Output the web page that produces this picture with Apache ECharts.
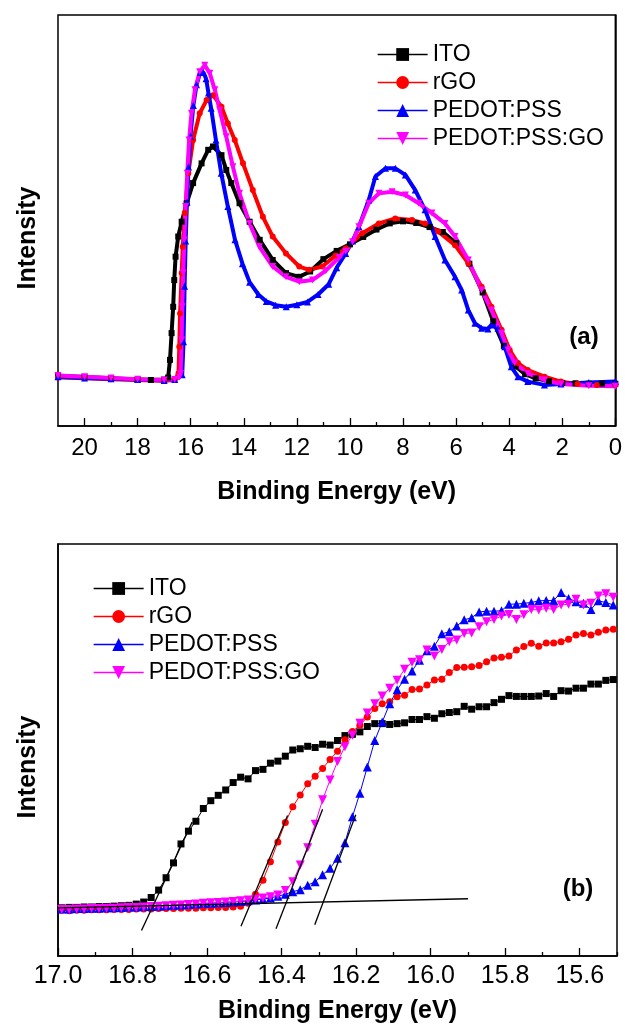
<!DOCTYPE html>
<html><head><meta charset="utf-8">
<script src="https://cdn.jsdelivr.net/npm/echarts@6/dist/echarts.min.js"></script>
<style>html,body{margin:0;padding:0;background:#fff}#c{width:625px;height:1026px}</style>
</head><body><div id="c"></div><script>
// ---------- Panel (a): UPS spectra, [binding energy (eV), intensity (a.u.)] ----------
const itoA = [[21,12.2],[20,11.9],[19,11.6],[18,11.3],[17.5,11.2],[17.0,11.3],[16.85,11.8],[16.78,16.1],[16.72,22.6],[16.66,29.0],[16.62,35.5],[16.57,41.2],[16.47,46.1],[16.34,49.7],[16.15,54.2],[15.91,59.1],[15.59,63.9],[15.34,67.2],[15.16,68.0],[14.84,65.9],[14.66,62.3],[14.47,59.1],[14.16,54.2],[13.78,49.7],[13.4,45.3],[12.91,40.4],[12.41,37.2],[11.91,36.3],[11.5,37.6],[11.0,40.6],[10.5,42.6],[10.0,44.2],[9.5,46.0],[9.0,47.8],[8.5,49.3],[8.0,49.8],[7.5,49.4],[7.0,48.4],[6.5,47.2],[6.0,44.5],[5.5,39.5],[5.0,32.5],[4.6,25.5],[4.2,19.5],[3.75,14.5],[3.4,12.6],[3.0,11.6],[2.5,10.9],[2.0,10.5],[1.5,10.4],[1.0,10.3],[0.5,10.3],[0,10.3]];
const rgoA = [[21,11.8],[20,11.6],[19,11.4],[18,11.2],[17,11.0],[16.6,11.2],[16.46,12.8],[16.43,19.3],[16.40,27.4],[16.34,37.2],[16.30,43.6],[16.22,51.8],[16.09,61.5],[15.91,69.6],[15.66,76.1],[15.40,79.3],[15.16,80.5],[14.84,77.7],[14.60,73.6],[14.34,69.6],[14.03,63.9],[13.66,57.4],[13.28,50.9],[12.91,46.1],[12.41,42.0],[11.91,38.8],[11.54,38.0],[11.04,38.8],[10.54,41.5],[10.16,43.2],[9.54,46.9],[8.91,49.3],[8.29,50.5],[7.66,50.1],[7.17,49.3],[6.67,47.3],[6.04,44.0],[5.54,39.6],[5.04,33.9],[4.67,29.0],[4.29,23.4],[3.98,18.5],[3.67,15.3],[3.30,13.6],[2.67,12.0],[2.05,10.8],[1.42,10.2],[0.7,10.0],[0,10.0]];
const pedotA = [[21,12.0],[20,11.7],[19,11.5],[18,11.3],[17,11.1],[16.6,11.3],[16.32,12.5],[16.27,20.5],[16.23,34],[16.19,45],[16.14,54.5],[16.08,63],[16.01,70.5],[15.9,78],[15.78,83],[15.64,86],[15.52,86],[15.42,84.5],[15.33,81],[15.23,77.3],[15.05,69.6],[14.85,61.5],[14.6,53.4],[14.33,45.3],[14.05,39.5],[13.78,35],[13.45,32],[13.15,30.3],[12.8,29.4],[12.4,29.0],[12.0,29.5],[11.6,30.2],[11.2,32.0],[10.8,34.5],[10.5,38.5],[10.16,42.0],[9.9,45.0],[9.66,48.5],[9.29,55.0],[9.04,60.7],[8.66,62.7],[8.29,62.7],[7.91,61.1],[7.54,57.4],[7.17,52.6],[6.79,46.1],[6.42,40.4],[6.04,36.3],[5.79,33.1],[5.54,28.2],[5.29,25.0],[5.04,23.8],[4.8,23.6],[4.67,24.6],[4.42,23.8],[4.17,19.3],[3.92,14.4],[3.67,12.0],[3.3,10.8],[2.67,10.0],[2.05,10.2],[1.0,10.6],[0,10.8]];
const pedotGoA = [[21,12.3],[20,12.0],[19,11.7],[18,11.4],[17,11.2],[16.6,11.3],[16.42,11.9],[16.38,12.8],[16.34,20.9],[16.32,29.0],[16.28,37.2],[16.24,45.3],[16.19,53.4],[16.13,61.5],[16.06,69.6],[15.97,76.1],[15.84,81.8],[15.66,86.2],[15.47,87.8],[15.28,85.8],[15.09,81.8],[14.91,76.9],[14.66,70.4],[14.41,63.1],[14.16,56.6],[13.78,49.3],[13.41,43.6],[12.91,38.8],[12.41,36.3],[11.91,35.1],[11.41,35.5],[10.91,37.8],[10.41,41.0],[10.16,42.5],[9.9,44.8],[9.66,48.5],[9.29,54.2],[8.91,56.6],[8.41,57.0],[7.91,56.2],[7.41,54.2],[6.91,51.8],[6.42,49.3],[6.04,46.1],[5.54,40.4],[5.04,33.1],[4.67,28.2],[4.29,22.6],[4.04,18.5],[3.79,15.3],[3.30,12.8],[2.67,11.2],[2.05,10.2],[1.0,9.8],[0,9.7]];

// ---------- Panel (b): cut-off region, shared energy grid ----------
const energyB = [16.99,16.97,16.95,16.93,16.91,16.89,16.87,16.85,16.83,16.81,
  16.79,16.77,16.75,16.73,16.71,16.69,16.67,16.65,16.63,16.61,
  16.59,16.57,16.55,16.53,16.51,16.49,16.47,16.45,16.43,16.41,
  16.39,16.37,16.35,16.33,16.31,16.29,16.27,16.25,16.23,16.21,
  16.19,16.17,16.15,16.13,16.11,16.09,16.07,16.05,16.03,16.01,
  15.99,15.97,15.95,15.93,15.91,15.89,15.87,15.85,15.83,15.81,
  15.79,15.77,15.75,15.73,15.71,15.69,15.67,15.65,15.63,15.61,
  15.59,15.57,15.55,15.53,15.51];
const itoB = [11.7,11.8,11.8,11.9,11.9,12.0,12.0,12.1,12.2,12.3,
  12.6,13.1,14.2,16.0,19.0,22.6,27.2,30.3,32.7,35.8,
  37.7,39.0,40.3,42.1,43.4,43.0,45.0,45.3,46.8,47.3,
  48.5,50.0,50.3,50.9,50.6,51.4,51.2,52.3,53.5,53.8,
  54.4,55.7,56.4,56.4,56.2,56.4,56.6,57.4,57.4,58.1,
  57.7,58.8,59.1,59.3,60.6,59.9,60.5,60.5,61.5,62.3,
  63.2,63.0,63.0,63.0,63.1,63.7,63.0,64.4,64.3,65.0,
  65.0,66.0,66.0,66.9,67.1];
const rgoB = [11.1,11.0,11.1,11.1,11.2,11.2,11.2,11.3,11.3,11.3,
  11.4,11.4,11.4,11.5,11.5,11.5,11.6,11.6,11.6,11.7,
  11.7,11.8,11.8,11.9,12.1,12.8,15.0,18.4,22.9,27.7,
  32.4,36.2,39.1,41.8,43.6,45.5,47.7,49.7,52.5,54.5,
  56.0,58.0,60.1,61.2,61.7,62.9,63.3,64.7,64.8,65.8,
  67.0,67.2,68.8,70.0,70.1,70.2,70.5,71.4,72.3,72.5,
  72.8,74.3,75.1,75.9,75.2,76.0,76.0,76.3,76.9,77.9,
  78.3,77.9,78.6,79.1,79.3];
const pedotB = [11.4,11.4,11.5,11.5,11.6,11.6,11.7,11.7,11.8,11.9,
  11.9,12.0,12.0,12.1,12.2,12.3,12.4,12.5,12.6,12.8,
  12.8,12.9,13.0,13.1,13.2,13.4,13.6,13.8,14.1,14.5,
  15.0,15.6,16.1,17.2,18.0,19.7,21.3,23.7,27.5,33.8,
  39.5,45.9,52.3,56.8,61.2,64.6,67.2,69.2,71.8,74.1,
  75.2,78.2,78.7,80.1,81.6,82.1,83.5,83.7,83.7,83.8,
  85.4,85.4,85.6,85.8,86.2,86.3,86.3,88.2,86.8,86.0,
  85.6,84.1,86.2,85.8,85.2];
const pedotGoB = [11.3,11.3,11.4,11.4,11.5,11.5,11.6,11.6,11.7,11.8,
  11.8,11.9,12.0,12.1,12.2,12.3,12.4,12.5,12.6,12.8,
  12.9,13.0,13.1,13.2,13.4,13.6,13.8,14.1,14.4,14.8,
  15.9,18.0,22.1,26.3,32.0,37.9,42.7,47.2,50.8,53.6,
  56.5,59.0,61.2,63.1,65.0,66.9,69.6,71.3,71.9,74.3,
  72.8,74.4,76.3,76.7,78.3,78.4,79.9,81.1,81.7,82.5,
  82.9,81.7,82.8,84.1,84.0,84.4,84.1,85.2,85.4,86.6,
  85.2,85.6,87.4,87.9,87.1];

// Linear-fit lines (onset extrapolations) in panel (b)
const fitITO = [[16.776,6.2],[16.64,32.5]];
const fitRGO = [[16.509,7.2],[16.384,34.1]];
const fitPedotGo = [[16.415,6.6],[16.29,35.6]];
const fitPedot = [[16.311,7.6],[16.201,34.3]];
const fitBaseline = [[17.0,11.7],[15.9,13.9]];

const names = ['ITO','rGO','PEDOT:PSS','PEDOT:PSS:GO'];
const majorTicksA = [0,2,4,6,8,10,12,14,16,18,20];
const minorTicksA = [1,3,5,7,9,11,13,15,17,19];
const majorTicksB = [15.6,15.8,16.0,16.2,16.4,16.6,16.8,17.0];
const minorTicksB = [15.5,15.7,15.9,16.1,16.3,16.5,16.7,16.9];

const FONT = 'Liberation Sans';
const colors = ['#000000','#ff0000','#0000ff','#ff00ff'];
const symbols = ['rect','circle','triangle','triangle'];
const rotates = [0,0,0,180];

function pair(xs, ys){ return xs.map((x,i)=>[x, ys[i]]); }

const topData = [itoA, rgoA, pedotA, pedotGoA];
const botData = [pair(energyB,itoB), pair(energyB,rgoB), pair(energyB,pedotB), pair(energyB,pedotGoB)];

const series = [];
topData.forEach((d,i)=>series.push({
  name: names[i], type:'line', xAxisIndex:0, yAxisIndex:0, data:d,
  symbol: symbols[i], symbolRotate: rotates[i], symbolSize: i===0?6:(i===1?6:7),
  lineStyle:{color:colors[i], width:4}, itemStyle:{color:colors[i]}, showAllSymbol:true
}));
botData.forEach((d,i)=>series.push({
  name: names[i], type:'line', xAxisIndex:1, yAxisIndex:1, data:d,
  symbol: symbols[i], symbolRotate: rotates[i], symbolSize: i===0?7:(i===1?7:9),
  lineStyle:{color:colors[i], width:1}, itemStyle:{color:colors[i]}, showAllSymbol:true
}));
[fitITO, fitRGO, fitPedotGo, fitPedot, fitBaseline].forEach(d=>series.push({
  type:'line', xAxisIndex:1, yAxisIndex:1, data:d, symbol:'none', silent:true,
  lineStyle:{color:'#000', width:1.3}, z:5
}));

const nameStyle = {fontFamily:FONT, fontWeight:'bold', fontSize:25, color:'#000'};
function xAx(grid, min, max, major, fmt, nameGap, margin, fs){
  return {
    gridIndex:grid, type:'value', min:min, max:max, inverse:true,
    axisLine:{show:true, onZero:false, lineStyle:{color:'#000', width:1.5}},
    axisTick:{show:true, inside:true, length:8, customValues:major, lineStyle:{color:'#000', width:1.3}},
    axisLabel:{customValues:major, formatter:fmt, color:'#000', fontFamily:FONT, fontSize:fs, margin:margin},
    splitLine:{show:false},
    name:'Binding Energy (eV)', nameLocation:'middle', nameGap:nameGap, nameTextStyle:nameStyle
  };
}
function minorAx(grid, min, max, minor){
  return {
    gridIndex:grid, type:'value', min:min, max:max, inverse:true, position:'bottom',
    axisLine:{show:false, onZero:false},
    axisTick:{show:true, inside:true, length:4, customValues:minor, lineStyle:{color:'#000', width:1.3}},
    axisLabel:{show:false}, splitLine:{show:false}
  };
}
function yAx(grid){
  return {
    gridIndex:grid, type:'value', min:0, max:100,
    axisLine:{show:true, lineStyle:{color:'#000', width:1.5}},
    axisTick:{show:false}, axisLabel:{show:false}, splitLine:{show:false}
  };
}
function legend(left, top){
  return {
    data:names, orient:'vertical', left:left, top:top, itemWidth:50, itemHeight:16, itemGap:5,
    selectedMode:false, textStyle:{fontFamily:FONT, fontSize:23, color:'#000'},
    lineStyle:{width:1.3}
  };
}
function label(text, x, y, rot){
  return {type:'text', x:x, y:y, rotation:rot, silent:true,
    style:{text:text, font:'bold ' + (rot ? 25 : 24) + 'px "Liberation Sans"', fill:'#000', align:'center', verticalAlign:'middle'}};
}

const option = {
  animation:false,
  backgroundColor:'#fff',
  textStyle:{fontFamily:FONT},
  grid:[
    {left:58, right:8, top:15, height:411, show:true, borderColor:'#000', borderWidth:1.5},
    {left:58, right:8, top:544, height:412, show:true, borderColor:'#000', borderWidth:1.5}
  ],
  xAxis:[
    xAx(0, 0, 21, majorTicksA, v=>String(v), 54, 10, 24),
    xAx(1, 15.5, 17.0, majorTicksB, v=>v.toFixed(1), 43, 8, 25),
    minorAx(0, 0, 21, minorTicksA),
    minorAx(1, 15.5, 17.0, minorTicksB)
  ],
  yAxis:[yAx(0), yAx(1)],
  legend:[legend(372, 38), legend(88, 572)],
  graphic:[
    label('Intensity', 28, 238, Math.PI/2),
    label('Intensity', 28, 767, Math.PI/2),
    label('(a)', 584, 337, 0),
    label('(b)', 578, 889, 0)
  ],
  series:series
};
const chart = echarts.init(document.getElementById('c'), null, {renderer:'canvas'});
chart.setOption(option);
</script></body></html>
